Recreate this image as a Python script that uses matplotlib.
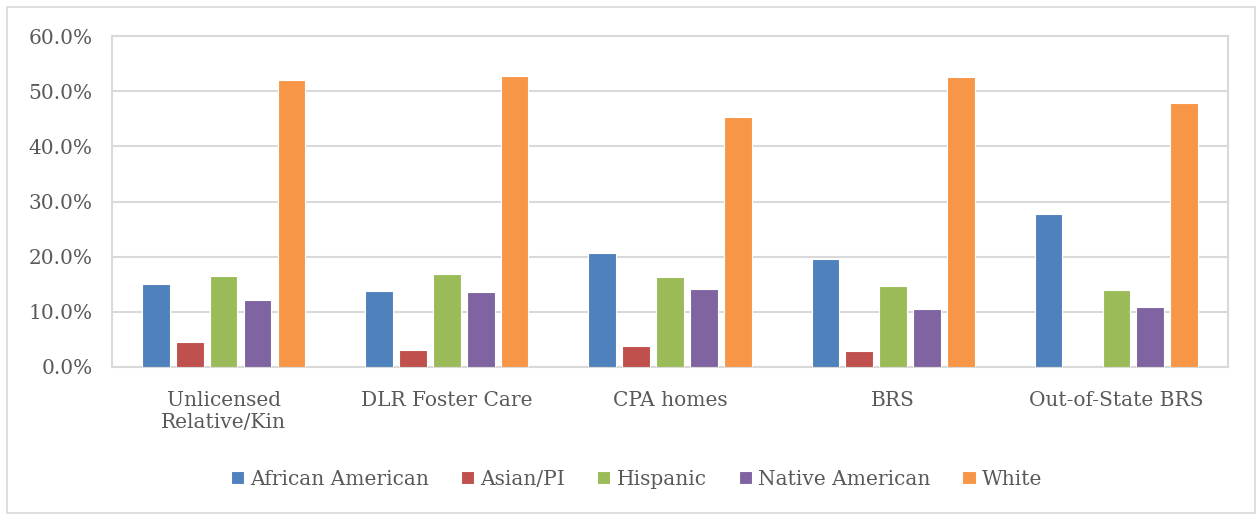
import numpy as np
import matplotlib
matplotlib.use("Agg")
import matplotlib.pyplot as plt
from matplotlib.ticker import FuncFormatter
from matplotlib.patches import Rectangle

categories = ["Unlicensed\nRelative/Kin", "DLR Foster Care", "CPA homes", "BRS", "Out-of-State BRS"]
african_american = [15.0, 13.8, 20.7, 19.6, 27.7]
asian_pi = [4.5, 3.1, 3.8, 2.9, 0.0]
hispanic = [16.5, 16.8, 16.3, 14.7, 13.9]
native_american = [12.1, 13.6, 14.1, 10.5, 10.9]
white = [52.0, 52.7, 45.3, 52.5, 47.8]

series = [
    ("African American", african_american, "#4F81BD"),
    ("Asian/PI", asian_pi, "#C0504D"),
    ("Hispanic", hispanic, "#9BBB59"),
    ("Native American", native_american, "#8064A2"),
    ("White", white, "#F79646"),
]

plt.rcParams["font.family"] = ["DejaVu Serif"]
text_color = "#595959"
grid_color = "#D9D9D9"

fig = plt.figure(figsize=(12.57, 5.14), dpi=100)
ax = fig.add_axes([112 / 1257, 1 - 367 / 514, 1116 / 1257, 331 / 514])

x = np.arange(len(categories))
pitch = 0.152
w = 0.124
for i, (name, vals, col) in enumerate(series):
    ax.bar(x + (i - 2) * pitch, vals, w, color=col, edgecolor="white", linewidth=0.8,
           label=name, zorder=3)

ax.set_xlim(-0.5, len(categories) - 0.5)
ax.set_ylim(0, 60)
ax.set_yticks(np.arange(0, 61, 10))
ax.yaxis.set_major_formatter(FuncFormatter(lambda v, p: f"{v:.1f}%"))
ax.set_xticks(x)
ax.set_xticklabels(categories)
ax.grid(axis="y", color=grid_color, linewidth=1.5, zorder=0)
ax.tick_params(length=0, colors=text_color, labelsize=14.5)
ax.tick_params(axis="x", pad=17)
ax.tick_params(axis="y", pad=14)
for s in ax.spines.values():
    s.set_color(grid_color)
    s.set_linewidth(1.5)

# legend sits a bit left of the plot centre, as in the original
ax.legend(loc="upper center", bbox_to_anchor=(0.47, -0.255), ncol=5, frameon=False,
          fontsize=14.5, labelcolor=text_color, handlelength=0.65, handleheight=0.65,
          handletextpad=0.3, columnspacing=1.6)

fig.patches.append(Rectangle((7 / 1257, 0.002), 1 - 9 / 1257, 0.985, transform=fig.transFigure,
                             fill=False, edgecolor=grid_color, linewidth=1.2))

fig.savefig("out.png", dpi=100)
